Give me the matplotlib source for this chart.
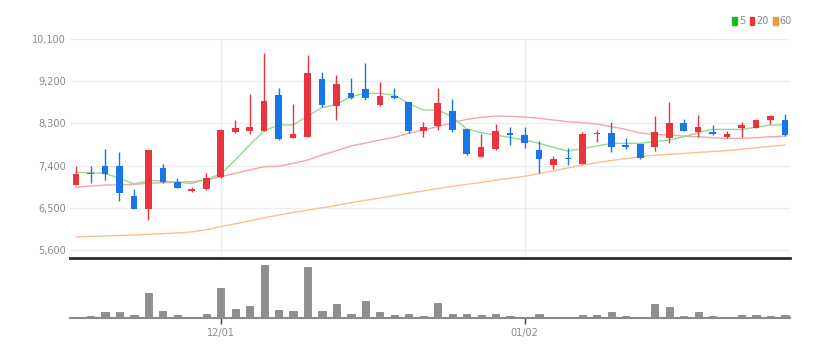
import numpy as np
import matplotlib
matplotlib.use("Agg")
from matplotlib import pyplot as plt
from matplotlib.patches import Patch

# daily candles, index 0..49
opens = [6990, 7250, 7400, 7400, 6750, 6480, 7350, 7040, 6860, 6910,
         7160, 8120, 8140, 8140, 8900, 7990, 8010, 9240, 8680, 8940,
         9030, 8690, 8890, 8750, 8140, 8240, 8570, 8190, 7590, 7750,
         8090, 8050, 7730, 7420, 7560, 7430, 8070, 8090, 7840, 7860,
         7790, 7990, 8300, 8120, 8110, 8000, 8200, 8210, 8380, 8370]
closes = [7220, 7220, 7220, 6820, 6480, 7730, 7050, 6930, 6900, 7140,
          8160, 8210, 8220, 8780, 7960, 8080, 9370, 8690, 9150, 8840,
          8850, 8890, 8840, 8140, 8220, 8730, 8160, 7640, 7790, 8140,
          8060, 7890, 7540, 7550, 7540, 8070, 8100, 7800, 7790, 7560,
          8110, 8310, 8130, 8220, 8070, 8080, 8260, 8370, 8460, 8050]
highs = [7400, 7400, 7750, 7680, 6900, 7730, 7430, 7140, 6950, 7250,
         8180, 8370, 8920, 9810, 9050, 8710, 9760, 9390, 9330, 9260,
         9580, 9190, 9050, 8760, 8340, 9050, 8810, 8190, 8070, 8280,
         8230, 8230, 7930, 7610, 7770, 8120, 8150, 8340, 7980, 7870,
         8460, 8760, 8390, 8490, 8270, 8140, 8340, 8390, 8470, 8500]
lows = [6980, 7030, 7090, 6640, 6470, 6240, 7030, 6920, 6830, 6880,
        7140, 8100, 8070, 8140, 7950, 7990, 8000, 8640, 8370, 8830,
        8790, 8680, 8830, 8100, 8020, 8170, 8120, 7620, 7580, 7740,
        7840, 7780, 7250, 7330, 7410, 7430, 7910, 7680, 7760, 7550,
        7720, 7880, 8130, 8000, 8060, 7990, 8000, 8200, 8290, 8040]
volumes = [2, 5, 18, 18, 8, 75, 21, 8, 2, 12,
           91, 26, 35, 160, 23, 21, 153, 21, 41, 13,
           50, 17, 8, 13, 6, 45, 12, 12, 8, 12,
           6, 4, 12, 2, 2, 8, 8, 18, 5, 2,
           42, 33, 6, 19, 6, 2, 8, 8, 6, 8]

# moving average lines
ma5 = [7257, 7250, 7235, 7130, 7007, 7078, 7078, 7043, 7020, 7106,
       7220, 7519, 7839, 8144, 8266, 8266, 8458, 8635, 8707, 8870,
       8942, 8942, 8905, 8727, 8585, 8585, 8443, 8180, 8102, 8052,
       8000, 7946, 7875, 7790, 7711, 7760, 7818, 7875, 7875, 7875,
       7910, 7946, 8016, 8102, 8173, 8173, 8173, 8216, 8266, 8266]
ma20 = [6940, 6964, 6985, 6990, 7000, 7022, 7036, 7043, 7057, 7092,
        7163, 7235, 7306, 7377, 7385, 7448, 7519, 7626, 7718, 7818,
        7880, 7946, 8003, 8088, 8159, 8230, 8315, 8386, 8429, 8458,
        8450, 8436, 8408, 8372, 8336, 8315, 8287, 8230, 8173, 8095,
        8067, 8052, 8030, 8016, 7995, 7980, 7980, 7995, 8016, 8030]
ma60 = [5880, 5890, 5900, 5910, 5920, 5935, 5950, 5965, 5985, 6030,
        6100, 6160, 6220, 6290, 6345, 6400, 6450, 6500, 6550, 6610,
        6660, 6710, 6760, 6810, 6860, 6910, 6960, 7000, 7040, 7090,
        7130, 7170, 7230, 7290, 7350, 7410, 7460, 7510, 7550, 7590,
        7620, 7640, 7660, 7680, 7700, 7720, 7750, 7780, 7810, 7840]

price_ticks = [5600, 6500, 7400, 8300, 9200, 10100]
date_ticks = [10, 31]
date_labels = ["12/01", "01/02"]

UP = "#e8343c"
DOWN = "#1877e6"
GRID = "#ececec"
LABEL = "#8a8a8a"
FONT = ["Liberation Sans Narrow", "DejaVu Sans"]


def main():
    plt.rcParams["font.family"] = FONT
    fig = plt.figure(figsize=(8.37, 3.58), dpi=100)
    ax = fig.add_axes([70 / 837, 1 - 258 / 358, 720 / 837, 219 / 358])
    vax = fig.add_axes([70 / 837, 1 - 318 / 358, 720 / 837, 58 / 358], sharex=ax)

    x = np.arange(len(opens))
    o = np.array(opens)
    c = np.array(closes)
    up = c >= o
    colors = np.where(up, UP, DOWN)

    # moving averages
    ax.plot(x, ma60, color="#f9c08e", lw=1.0, zorder=2)
    ax.plot(x, ma20, color="#f5a5aa", lw=1.0, zorder=2)
    ax.plot(x, ma5, color="#95da8f", lw=1.0, zorder=2)

    # candles
    ax.vlines(x, lows, highs, colors=colors, lw=1.0, zorder=3)
    body = np.maximum(np.abs(c - o), 25)
    ax.bar(x, body, bottom=np.minimum(o, c), width=0.46, color=colors, zorder=4)

    ax.set_xlim(-0.42, 49.35)
    ax.set_ylim(5430, 10100)
    ax.set_yticks(price_ticks)
    ax.set_yticklabels([f"{v:,}" for v in price_ticks])
    ax.tick_params(axis="y", length=0, pad=3, labelsize=7, labelcolor=LABEL)
    ax.tick_params(axis="x", length=0, labelbottom=False)
    ax.set_xticks(date_ticks)
    ax.grid(True, color=GRID, lw=0.9, zorder=0)
    for s in ["top", "left", "right"]:
        ax.spines[s].set_visible(False)
    ax.spines["bottom"].set_color("#2b2b2b")
    ax.spines["bottom"].set_linewidth(2)

    # volume
    vax.bar(x, volumes, width=0.5, color="#8f8f8f", edgecolor="#7a7a7a", lw=0.5, zorder=2)
    vax.set_ylim(0, 175)
    vax.set_yticks([])
    vax.set_xticks(date_ticks)
    vax.set_xticklabels(date_labels)
    vax.tick_params(axis="x", length=4, width=1, color="#333333", pad=3,
                    labelsize=7, labelcolor=LABEL)
    for s in ["top", "left", "right"]:
        vax.spines[s].set_visible(False)
    vax.spines["bottom"].set_color("#8a8a8a")
    vax.spines["bottom"].set_linewidth(1.5)

    handles = [Patch(color="#22b822", label="5"),
               Patch(color="#e8343c", label="20"),
               Patch(color="#f39a3a", label="60")]
    leg = fig.legend(handles=handles, loc="upper right", ncol=3, frameon=False,
                     bbox_to_anchor=(792 / 837, 1 - 16 / 358), fontsize=7,
                     handlelength=0.45, handleheight=0.9, handletextpad=0.2,
                     columnspacing=0.5, borderpad=0, borderaxespad=0)
    for t in leg.get_texts():
        t.set_color(LABEL)

    fig.savefig("out.png", dpi=100)


if __name__ == "__main__":
    main()
